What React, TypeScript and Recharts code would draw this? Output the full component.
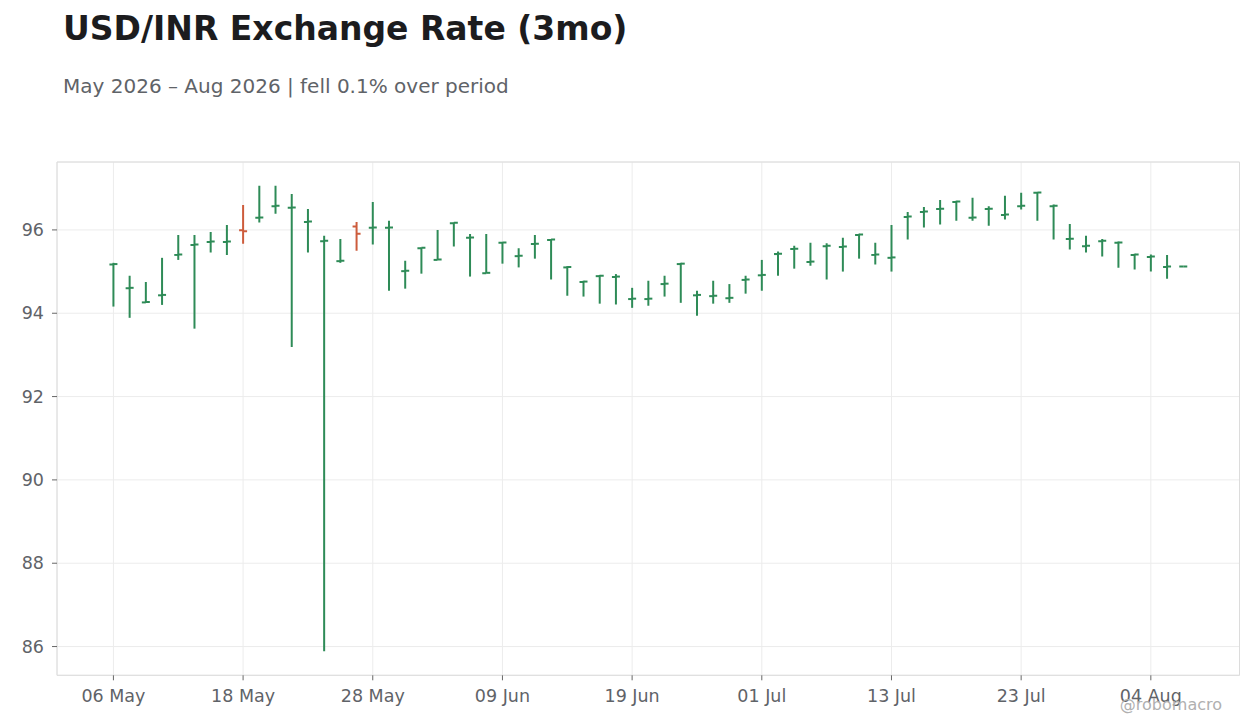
import { ComposedChart, Bar, XAxis, YAxis, CartesianGrid, ReferenceArea } from 'recharts';

const dates = [
  '2026-05-06', '2026-05-07', '2026-05-08', '2026-05-11', '2026-05-12', '2026-05-13', '2026-05-14', '2026-05-15',
  '2026-05-18', '2026-05-19', '2026-05-20', '2026-05-21', '2026-05-22', '2026-05-25', '2026-05-26', '2026-05-27',
  '2026-05-28', '2026-05-29', '2026-06-01', '2026-06-02', '2026-06-03', '2026-06-04', '2026-06-05', '2026-06-08',
  '2026-06-09', '2026-06-10', '2026-06-11', '2026-06-12', '2026-06-15', '2026-06-16', '2026-06-17', '2026-06-18',
  '2026-06-19', '2026-06-22', '2026-06-23', '2026-06-24', '2026-06-25', '2026-06-26', '2026-06-29', '2026-06-30',
  '2026-07-01', '2026-07-02', '2026-07-03', '2026-07-06', '2026-07-07', '2026-07-08', '2026-07-09', '2026-07-10',
  '2026-07-13', '2026-07-14', '2026-07-15', '2026-07-16', '2026-07-17', '2026-07-20', '2026-07-21', '2026-07-22',
  '2026-07-23', '2026-07-24', '2026-07-27', '2026-07-28', '2026-07-29', '2026-07-30', '2026-07-31', '2026-08-03',
  '2026-08-04', '2026-08-05', '2026-08-06',
];

const highs = [
  95.21, 94.90, 94.75, 95.33, 95.88, 95.88, 95.95, 96.12, 96.60, 97.06, 97.06, 96.86, 96.50, 95.86, 95.78, 96.19,
  96.67, 96.22, 95.26, 95.58, 96.00, 96.18, 95.90, 95.90, 95.71, 95.56, 95.88, 95.78, 95.13, 94.78, 94.92, 94.94,
  94.61, 94.78, 94.90, 95.21, 94.54, 94.78, 94.70, 94.90, 95.28, 95.48, 95.62, 95.69, 95.68, 95.81, 95.91, 95.69,
  96.12, 96.43, 96.55, 96.72, 96.70, 96.77, 96.57, 96.82, 96.89, 96.91, 96.61, 96.14, 95.86, 95.78, 95.72, 95.43,
  95.41, 95.40, 95.12,
];

const lows = [
  94.16, 93.89, 94.25, 94.20, 95.28, 93.63, 95.46, 95.40, 95.67, 96.18, 96.39, 93.19, 95.46, 85.89, 95.21, 95.50,
  95.65, 94.54, 94.59, 94.95, 95.28, 95.60, 94.88, 94.96, 95.19, 95.10, 95.31, 94.81, 94.42, 94.40, 94.23, 94.21,
  94.13, 94.18, 94.40, 94.25, 93.94, 94.23, 94.25, 94.47, 94.54, 94.90, 95.07, 95.14, 94.81, 95.00, 95.31, 95.17,
  95.00, 95.77, 96.06, 96.13, 96.22, 96.22, 96.10, 96.25, 96.49, 96.22, 95.77, 95.53, 95.46, 95.36, 95.09, 95.05,
  95.00, 94.83, 95.12,
];

const opens = [
  95.17, 94.60, 94.26, 94.43, 95.40, 95.64, 95.71, 95.71, 95.99, 96.29, 96.57, 96.53, 96.19, 95.73, 95.25, 96.08,
  96.05, 96.05, 95.01, 95.56, 95.28, 96.16, 95.81, 94.96, 95.69, 95.37, 95.66, 95.76, 95.10, 94.75, 94.89, 94.87,
  94.34, 94.34, 94.70, 95.18, 94.43, 94.41, 94.36, 94.80, 94.91, 95.42, 95.54, 95.23, 95.61, 95.59, 95.88, 95.40,
  95.33, 96.31, 96.43, 96.50, 96.67, 96.29, 96.50, 96.36, 96.57, 96.89, 96.57, 95.78, 95.61, 95.73, 95.69, 95.40,
  95.35, 95.11, 95.12,
];

const closes = [
  95.18, 94.61, 94.27, 94.44, 95.41, 95.65, 95.72, 95.72, 95.97, 96.30, 96.58, 96.54, 96.20, 95.74, 95.26, 95.91,
  96.06, 96.06, 95.02, 95.57, 95.29, 96.17, 95.82, 94.97, 95.70, 95.38, 95.67, 95.77, 95.11, 94.76, 94.90, 94.88,
  94.35, 94.35, 94.71, 95.19, 94.44, 94.42, 94.37, 94.81, 94.92, 95.43, 95.55, 95.24, 95.62, 95.60, 95.89, 95.41,
  95.34, 96.32, 96.44, 96.51, 96.68, 96.30, 96.51, 96.37, 96.58, 96.90, 96.58, 95.79, 95.62, 95.74, 95.70, 95.41,
  95.36, 95.12, 95.12,
];

const xTicks = [0, 8, 16, 24, 32, 40, 48, 56, 64];
const yTicks = [86, 88, 90, 92, 94, 96];
const months = ['Jan', 'Feb', 'Mar', 'Apr', 'May', 'Jun', 'Jul', 'Aug', 'Sep', 'Oct', 'Nov', 'Dec'];

const UP = '#2e8b57';
const DOWN = '#cd5c3c';
const X_DOMAIN: [number, number] = [-3.48, 69.47];
const Y_DOMAIN: [number, number] = [85.31, 97.63];

const data = dates.map((d, i) => ({
  i,
  date: d,
  open: opens[i],
  high: highs[i],
  low: lows[i],
  close: closes[i],
  range: [lows[i], highs[i]],
}));

function fmtDate(i: number) {
  const d = dates[i];
  if (!d) return '';
  return `${d.slice(8, 10)} ${months[Number(d.slice(5, 7)) - 1]}`;
}

// one OHLC stick: high-low line, open tick left, close tick right
function OhlcShape(props: any) {
  const { x, y, width, height, payload } = props;
  const top = Math.min(y, y + height);
  const bottom = Math.max(y, y + height);
  const span = payload.high - payload.low;
  const toY = (v: number) => (span > 0 ? top + ((payload.high - v) / span) * (bottom - top) : top);
  const cx = x + width / 2;
  const color = payload.close >= payload.open ? UP : DOWN;
  const yo = toY(payload.open);
  const yc = toY(payload.close);
  const t = 4;
  return (
    <g>
      {bottom - top > 0 && <line x1={cx} x2={cx} y1={top} y2={bottom} stroke={color} strokeWidth={2} />}
      <line x1={cx - t} x2={cx} y1={yo} y2={yo} stroke={color} strokeWidth={2} />
      <line x1={cx} x2={cx + t} y1={yc} y2={yc} stroke={color} strokeWidth={2} />
    </g>
  );
}

const font = 'DejaVu Sans, sans-serif';

export default function App() {
  return (
    <div style={{ position: 'relative', width: 1260, height: 728, background: '#fff', fontFamily: font }}>
      <style>{'body{margin:0}'}</style>
      <svg width={1260} height={728} style={{ position: 'absolute', left: 0, top: 0, pointerEvents: 'none' }}>
        <text x={63} y={39.5} fontSize={33} fontWeight="bold" fill="#1c1c1e" fontFamily={font}>
          USD/INR Exchange Rate (3mo)
        </text>
        <text x={63} y={92.5} fontSize={20} fill="#5f6368" fontFamily={font}>
          May 2026 – Aug 2026 | fell 0.1% over period
        </text>
      </svg>
      <div style={{ position: 'absolute', left: 0, top: 0 }}>
        <ComposedChart
          width={1260}
          height={728}
          data={data}
          margin={{ top: 162, right: 20.5, bottom: 22.7, left: 0 }}
        >
          <CartesianGrid stroke="#ececec" strokeWidth={1} />
          <XAxis
            dataKey="i"
            type="number"
            domain={X_DOMAIN}
            allowDataOverflow
            ticks={xTicks}
            tickFormatter={fmtDate}
            height={30}
            tickSize={5}
            tickMargin={9}
            axisLine={false}
            tickLine={{ stroke: '#666' }}
            tick={{ fill: '#5f6368', fontSize: 17.5, fontFamily: font }}
          />
          <YAxis
            type="number"
            domain={Y_DOMAIN}
            allowDataOverflow
            ticks={yTicks}
            width={57}
            tickSize={5}
            tickMargin={8}
            axisLine={false}
            tickLine={{ stroke: '#666' }}
            tick={{ fill: '#5f6368', fontSize: 17.5, fontFamily: font }}
          />
          <ReferenceArea
            x1={X_DOMAIN[0]}
            x2={X_DOMAIN[1]}
            y1={Y_DOMAIN[0]}
            y2={Y_DOMAIN[1]}
            fill="none"
            stroke="#dcdcdc"
            strokeWidth={1}
            ifOverflow="visible"
          />
          <Bar dataKey="range" shape={<OhlcShape />} isAnimationActive={false} />
        </ComposedChart>
      </div>
      <svg width={1260} height={728} style={{ position: 'absolute', left: 0, top: 0, pointerEvents: 'none' }}>
        <text x={1222} y={709.5} fontSize={16} fill="#b0b0b0" textAnchor="end" fontFamily={font}>
          @robomacro
        </text>
      </svg>
    </div>
  );
}
